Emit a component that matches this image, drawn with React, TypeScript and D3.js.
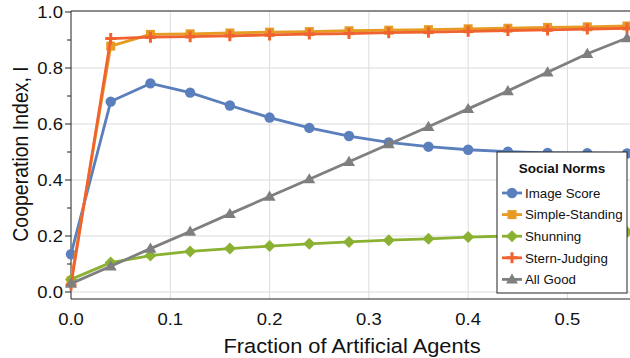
import React, { useEffect, useRef } from 'react';
import * as d3 from 'd3';

const fractions = [0, 0.04, 0.08, 0.12, 0.16, 0.2, 0.24, 0.28, 0.32, 0.36, 0.4, 0.44, 0.48, 0.52, 0.56];
const imageScore = [0.135, 0.68, 0.745, 0.712, 0.666, 0.623, 0.586, 0.557, 0.534, 0.519, 0.508, 0.501, 0.497, 0.496, 0.495];
const simpleStanding = [0.04, 0.878, 0.92, 0.922, 0.925, 0.928, 0.93, 0.933, 0.935, 0.937, 0.94, 0.942, 0.945, 0.947, 0.95];
const shunning = [0.045, 0.105, 0.13, 0.145, 0.155, 0.164, 0.172, 0.179, 0.185, 0.19, 0.196, 0.2, 0.205, 0.21, 0.214];
const sternJudging = [0.025, 0.905, 0.91, 0.912, 0.915, 0.918, 0.921, 0.923, 0.926, 0.928, 0.931, 0.934, 0.936, 0.939, 0.942];
const allGood = [0.03, 0.092, 0.155, 0.216, 0.279, 0.341, 0.403, 0.465, 0.528, 0.59, 0.654, 0.718, 0.785, 0.851, 0.907];

const seriesNames = ['Image Score', 'Simple-Standing', 'Shunning', 'Stern-Judging', 'All Good'];
const seriesValues = [imageScore, simpleStanding, shunning, sternJudging, allGood];
const seriesColors = ['#5a7fbc', '#e59b24', '#8bb132', '#f0622f', '#7f7f7f'];
const seriesMarkers = ['circle', 'square', 'diamond', 'plus', 'triangle'];
const xTicks = [0, 0.1, 0.2, 0.3, 0.4, 0.5];
const yTicks = [0, 0.2, 0.4, 0.6, 0.8, 1.0];
const yMinor = [0.1, 0.3, 0.5, 0.7, 0.9];

const FONT = '"Liberation Sans", Arial, Helvetica, sans-serif';
const STRETCH = 1.12;

const App = () => {
  const svgRef = useRef<SVGSVGElement>(null);

  useEffect(() => {
    const svg = d3.select(svgRef.current);
    svg.selectAll('*').remove();

    const left = 71, right = 630, top = 11, bottom = 299;
    const x = d3.scaleLinear().domain([0, 0.563]).range([left, right]);
    const y = d3.scaleLinear().domain([0, 1]).range([292, 12]);

    // grid
    const grid = svg.append('g');
    grid.selectAll('.vg').data(xTicks.slice(1)).enter().append('line')
      .attr('x1', d => x(d)).attr('x2', d => x(d))
      .attr('y1', top).attr('y2', bottom)
      .attr('stroke', '#dcdcdc').attr('stroke-width', 1);
    grid.selectAll('.hg').data(yTicks.slice(0, -1)).enter().append('line')
      .attr('x1', left).attr('x2', right)
      .attr('y1', d => y(d)).attr('y2', d => y(d))
      .attr('stroke', '#dcdcdc').attr('stroke-width', 1);

    // spines
    svg.append('line').attr('x1', left).attr('x2', right).attr('y1', top).attr('y2', top)
      .attr('stroke', '#666').attr('stroke-width', 1.5);
    svg.append('line').attr('x1', left).attr('x2', right).attr('y1', bottom).attr('y2', bottom)
      .attr('stroke', '#222').attr('stroke-width', 1);
    svg.append('line').attr('x1', left).attr('x2', left).attr('y1', top).attr('y2', bottom)
      .attr('stroke', '#222').attr('stroke-width', 1);

    // y ticks
    const yAxis = svg.append('g');
    yAxis.selectAll('.t').data(yTicks).enter().append('line')
      .attr('x1', left - 6).attr('x2', left).attr('y1', d => y(d)).attr('y2', d => y(d))
      .attr('stroke', '#222');
    yAxis.selectAll('.m').data(yMinor).enter().append('line')
      .attr('x1', left - 4).attr('x2', left).attr('y1', d => y(d)).attr('y2', d => y(d))
      .attr('stroke', '#222');
    yAxis.selectAll('text').data(yTicks).enter().append('text')
      .attr('transform', d => `translate(${left - 8},${y(d)}) scale(${STRETCH},1)`)
      .attr('dy', '0.36em')
      .attr('text-anchor', 'end').attr('font-family', FONT).attr('font-size', 16.5)
      .attr('fill', '#111').text(d => d3.format('.1f')(d));

    // x ticks
    svg.append('g').selectAll('text').data(xTicks).enter().append('text')
      .attr('transform', d => `translate(${x(d)},325) scale(${STRETCH},1)`)
      .attr('text-anchor', 'middle').attr('font-family', FONT).attr('font-size', 16.5)
      .attr('fill', '#111').text(d => d3.format('.1f')(d));

    // axis labels
    svg.append('text').attr('transform', `translate(352,353) scale(${STRETCH},1)`).attr('text-anchor', 'middle')
      .attr('font-family', FONT).attr('font-size', 19.5).attr('fill', '#111')
      .text('Fraction of Artificial Agents');
    svg.append('text').attr('transform', `translate(28,154) scale(${STRETCH},1) rotate(-90)`).attr('text-anchor', 'middle')
      .attr('font-family', FONT).attr('font-size', 19.5).attr('fill', '#111')
      .text('Cooperation Index, I');

    const drawMarker = (g: any, kind: string, color: string, cx: number, cy: number, s: number) => {
      if (kind === 'circle') {
        g.append('circle').attr('cx', cx).attr('cy', cy).attr('r', s * 0.52).attr('fill', color);
      } else if (kind === 'square') {
        g.append('rect').attr('x', cx - s * 0.45).attr('y', cy - s * 0.45)
          .attr('width', s * 0.9).attr('height', s * 0.9).attr('fill', color);
      } else if (kind === 'diamond') {
        const h = s * 0.6;
        g.append('path').attr('d', `M${cx},${cy - h}L${cx + h},${cy}L${cx},${cy + h}L${cx - h},${cy}Z`).attr('fill', color);
      } else if (kind === 'plus') {
        const h = s * 0.55;
        g.append('path').attr('d', `M${cx - h},${cy}H${cx + h}M${cx},${cy - h}V${cy + h}`)
          .attr('stroke', color).attr('stroke-width', 3).attr('fill', 'none');
      } else {
        const h = s * 0.6;
        g.append('path').attr('d', `M${cx},${cy - h}L${cx + h},${cy + h * 0.7}L${cx - h},${cy + h * 0.7}Z`).attr('fill', color);
      }
    };

    const plot = svg.append('g');
    const line = d3.line<number>().x((_, i) => x(fractions[i])).y(d => y(d));
    seriesValues.forEach((vals, si) => {
      const g = plot.append('g');
      g.append('path').datum(vals).attr('d', line)
        .attr('fill', 'none').attr('stroke', seriesColors[si]).attr('stroke-width', 2.8)
        .attr('stroke-linejoin', 'round');
      vals.forEach((v, i) => drawMarker(g, seriesMarkers[si], seriesColors[si], x(fractions[i]), y(v), 10));
    });

    // legend
    const lg = svg.append('g').attr('transform', 'translate(497,152)');
    lg.append('rect').attr('width', 130).attr('height', 141).attr('fill', 'white')
      .attr('stroke', '#222').attr('stroke-width', 1);
    lg.append('text').attr('x', 65).attr('y', 16).attr('dy', '0.36em').attr('text-anchor', 'middle')
      .attr('font-family', FONT).attr('font-size', 13.5).attr('font-weight', 'bold').attr('fill', '#111')
      .text('Social Norms');
    seriesNames.forEach((name, i) => {
      const cy = 41 + i * 21.6;
      lg.append('line').attr('x1', 5).attr('x2', 25).attr('y1', cy).attr('y2', cy)
        .attr('stroke', seriesColors[i]).attr('stroke-width', 2.8);
      drawMarker(lg, seriesMarkers[i], seriesColors[i], 15, cy, 10);
      lg.append('text').attr('x', 28).attr('y', cy).attr('dy', '0.36em')
        .attr('font-family', FONT).attr('font-size', 13.3).attr('fill', '#111').text(name);
    });
  }, []);

  return (
    <svg ref={svgRef} width={630} height={358}
      style={{ position: 'absolute', left: 0, top: 0, background: 'white' }} />
  );
};

export default App;
